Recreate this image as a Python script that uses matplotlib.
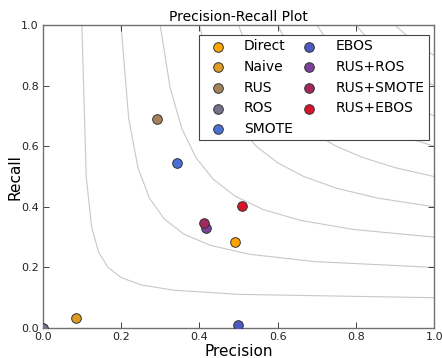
import numpy as np
import matplotlib
matplotlib.use('Agg')
import matplotlib.pyplot as plt

# results per method (precision, recall)
methods = ['Direct', 'Naive', 'RUS', 'ROS', 'SMOTE',
           'EBOS', 'RUS+ROS', 'RUS+SMOTE', 'RUS+EBOS']
precision = [0.491, 0.085, 0.293, 0.0, 0.344, 0.499, 0.418, 0.413, 0.509]
recall = [0.283, 0.032, 0.689, 0.0, 0.546, 0.010, 0.329, 0.346, 0.402]
colors = ['#FFA500', '#DE9B22', '#A3825C', '#72728A', '#4A70D6',
          '#4F59C4', '#7E3F9B', '#A3285D', '#D9132B']

# iso curves pass through (1, a) and (a, 1)
iso_levels = [0.1, 0.2, 0.3, 0.4, 0.5, 0.6, 0.7, 0.8, 0.9]

plt.rcParams['font.family'] = 'DejaVu Sans'

fig = plt.figure(figsize=(4.42, 3.58), dpi=100, facecolor='white')
ax = fig.add_axes([0.0966, 0.0838, 0.886, 0.846])

for a in iso_levels:
    inv_p = np.linspace(1, 1 / a, 10)
    inv_r = (1 + 1 / a) - inv_p
    ax.plot(1 / inv_p, 1 / inv_r, color='#c8c8c8', lw=0.8, zorder=1)

for m, p, r, c in zip(methods, precision, recall, colors):
    ax.scatter(p, r, s=48, color=c, edgecolor='#333333', linewidth=0.7,
               label=m, zorder=3)

ax.set_xlim(0, 1)
ax.set_ylim(0, 1)
ax.set_xticks(np.arange(0, 1.01, 0.2))
ax.set_yticks(np.arange(0, 1.01, 0.2))
ax.tick_params(direction='in', top=True, right=True, labelsize=8,
               colors='#222222', length=4, width=0.6, pad=3)
for s in ax.spines.values():
    s.set_color('#707070')
    s.set_linewidth(1.0)

ax.set_title('Precision-Recall Plot', fontsize=10, pad=3)
ax.set_xlabel('Precision', fontsize=11, labelpad=1)
ax.set_ylabel('Recall', fontsize=11, labelpad=-1)

leg = ax.legend(loc='upper right', bbox_to_anchor=(0.9865, 0.967),
                borderaxespad=0, ncol=2, scatterpoints=1, fontsize=10,
                fancybox=False, edgecolor='#444444', framealpha=1,
                handletextpad=0.9, columnspacing=0.2,
                labelspacing=0.48, borderpad=0.3)
leg.get_frame().set_linewidth(0.8)

plt.savefig('out.png', dpi=100)
